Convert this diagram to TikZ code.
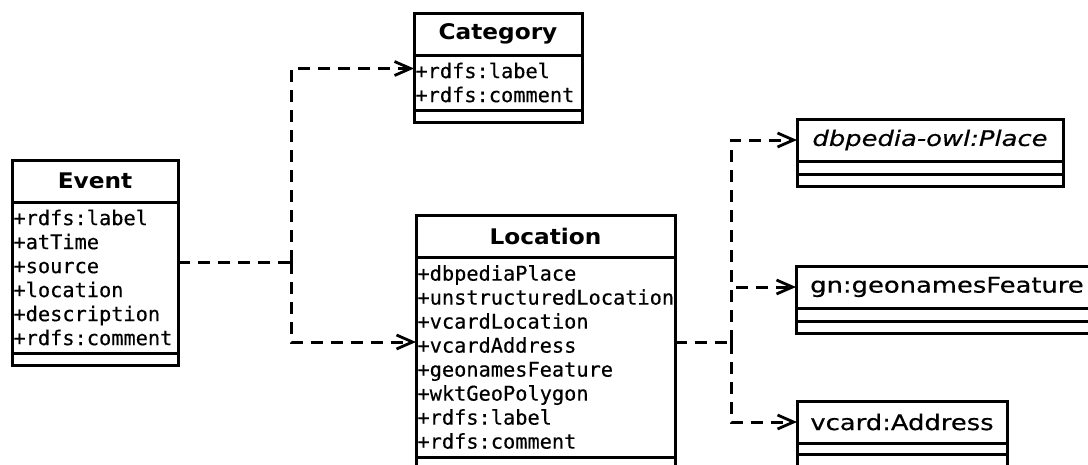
\documentclass[tikz,border=0pt]{standalone}
\usepackage{fontspec}
\usetikzlibrary{arrows.meta}
% fonts of the class boxes
\newfontfamily\headfont{DejaVu Sans}[FakeStretch=1.08]
\newfontfamily\extfont{DejaVu Sans}[FakeStretch=1.2, FakeBold=0.5]
\newfontfamily\attrfont{DejaVu Sans Mono}[FakeBold=0.4]
\tikzset{
  umlpart/.style={draw, line width=3pt, outer sep=0pt, inner sep=0pt, anchor=north},
  headbox/.style={umlpart, minimum height=42pt, anchor=north west,
    font=\headfont\bfseries\fontsize{21.5}{24}\selectfont},
  extbox/.style={umlpart, minimum height=42pt, anchor=north west,
    font=\extfont\fontsize{21.5}{24}\selectfont},
  attrbox/.style={umlpart, inner xsep=1.5pt, align=left,
    font=\attrfont\fontsize{20.3}{24}\selectfont},
  opbox/.style={umlpart},
  dep/.style={line width=3pt, dash pattern=on 12pt off 8pt,
    -{Straight Barb[length=16pt, width=14pt, line width=2.8pt]}},
  deplink/.style={line width=3pt, dash pattern=on 12pt off 8pt}
}
\begin{document}
\begin{tikzpicture}[x=1pt, y=-1pt]
  \fill[white] (0,0) rectangle (1088,464);
  \useasboundingbox (0,0) rectangle (1088,464);
  \clip (0,0) rectangle (1088,464);

  % Event
  \node[headbox, minimum width=166pt] (ev) at (12,160) {Event};
  \node[attrbox, minimum width=166pt, minimum height=151pt, text width=163pt] (ev-a) at (ev.south)
    {+rdfs:label\\+atTime\\+source\\+location\\+description\\+rdfs:comment};
  \node[opbox, minimum width=166pt, minimum height=12pt] (ev-o) at (ev-a.south) {};

  % Category
  \node[headbox, minimum width=168pt] (cat) at (414,13) {Category};
  \node[attrbox, minimum width=168pt, minimum height=55pt, text width=165pt] (cat-a) at (cat.south)
    {+rdfs:label\\+rdfs:comment};
  \node[opbox, minimum width=168pt, minimum height=12pt] (cat-o) at (cat-a.south) {};

  % Location
  \node[headbox, minimum width=259pt] (loc) at (416,215) {Location};
  \node[attrbox, minimum width=259pt, minimum height=200pt, text width=256pt] (loc-a) at (loc.south)
    {+dbpediaPlace\\+unstructuredLocation\\+vcardLocation\\+vcardAddress\\+geonamesFeature\\+wktGeoPolygon\\+rdfs:label\\+rdfs:comment};
  \node[opbox, minimum width=259pt, minimum height=16pt] (loc-o) at (loc-a.south) {};

  % dbpedia-owl:Place
  \node[extbox, minimum width=266pt] (dbp) at (797,119) {\itshape dbpedia-owl:Place};
  \node[opbox, minimum width=266pt, minimum height=13pt] (dbp-a) at (dbp.south) {};
  \node[opbox, minimum width=266pt, minimum height=12pt] (dbp-o) at (dbp-a.south) {};

  % gn:geonamesFeature
  \node[extbox, minimum width=302pt] (gn) at (796,266) {gn:geonamesFeature};
  \node[opbox, minimum width=302pt, minimum height=13pt] (gn-a) at (gn.south) {};
  \node[opbox, minimum width=302pt, minimum height=12pt] (gn-o) at (gn-a.south) {};

  % vcard:Address
  \node[extbox, minimum width=210pt] (vc) at (797,401) {vcard:Address};
  \node[opbox, minimum width=210pt, minimum height=11pt] (vc-a) at (vc.south) {};
  \node[opbox, minimum width=210pt, minimum height=16pt] (vc-o) at (vc-a.south) {};

  % junctions of the dependency lines
  \coordinate (j1) at (291,262);
  \coordinate (j2) at (731,342);

  % Event uses Category and Location
  \draw[deplink] ([yshift=-60pt]ev-a.north east) -- (j1);
  \draw[dep] (j1) |- ([yshift=-13.5pt]cat-a.north west);
  \draw[dep] (j1) |- ([yshift=-85pt]loc-a.north west);

  % Location uses the external classes
  \draw[deplink] ([yshift=-85pt]loc-a.north east) -- (j2);
  \draw[dep] (j2) |- (dbp.west);
  \draw[dep] (j2) |- (gn.west);
  \draw[dep] (j2) |- (vc.west);
\end{tikzpicture}
\end{document}
